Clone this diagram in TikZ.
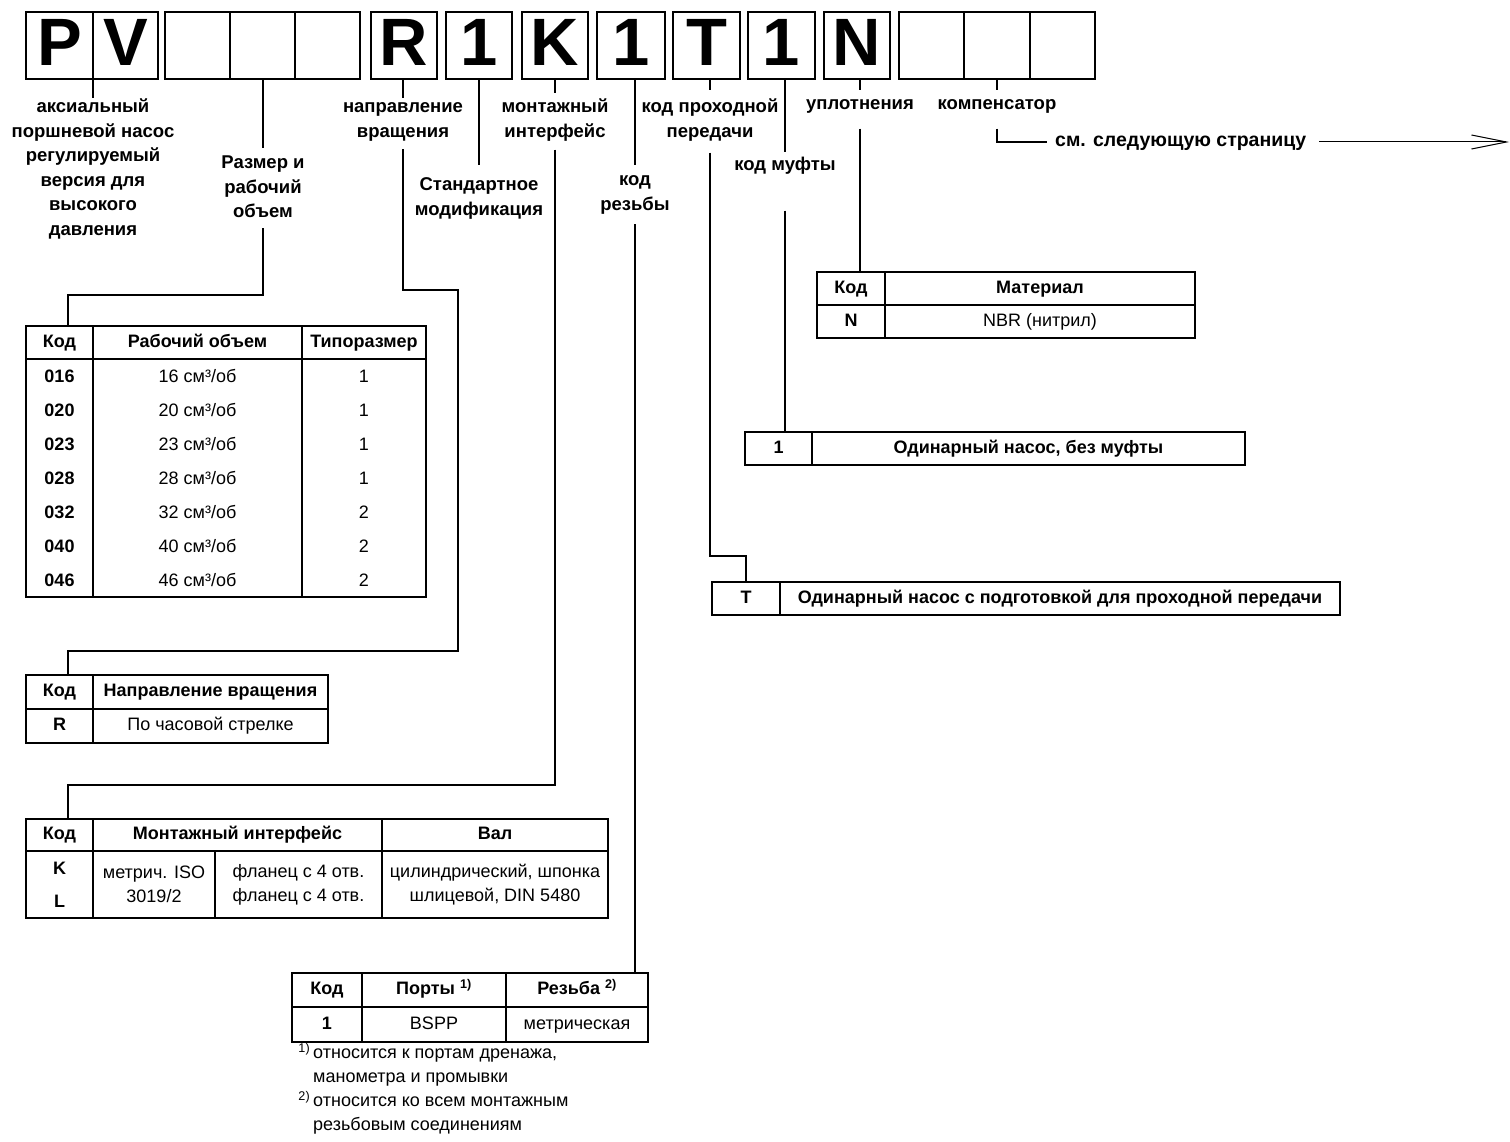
\documentclass[tikz,border=0pt]{standalone}
\usepackage{fontspec}
\setmainfont{Liberation Sans}
\usetikzlibrary{arrows.meta}
\newcommand\fbig{\fontsize{67}{67}\selectfont\bfseries}
\newcommand\flab{\fontsize{18.5}{24.5}\selectfont\bfseries}
\newcommand\fsee{\fontsize{19.5}{24.5}\selectfont\bfseries}
\newcommand\ftab{\fontsize{18}{24}\selectfont}
\newcommand\fnote{\fontsize{18}{24}\selectfont}
\newcommand\mystrut{\rule{0pt}{13.5pt}}
\newcommand\mycell[4]{\node[bc,minimum width={(#4-#3)*1pt}] (#1) at ({(#3+#4)/2},45.5) {#2};}
\newcommand\mytab[7][]{\node[tcs,#1,minimum width={(#5-#3)*1pt},minimum height={(#6-#4)*1pt}] (#2) at ({(#3+#5)/2},{(#4+#6)/2}) {#7};}
\begin{document}
\begin{tikzpicture}[x=1pt,y=-1pt,
 bc/.style={draw,line width=1.2pt,inner sep=0pt,outer sep=0pt,minimum height=67pt,font=\fbig,text height=48pt,text depth=8pt},
 tc/.style={draw,line width=1.2pt,inner sep=0pt,outer sep=0pt,font=\ftab,align=center},
 tcs/.style={tc,text height=12.9pt,text depth=3.8pt},
 tml/.style={text height=,text depth=},
 lab/.style={font=\flab,align=center,inner sep=0pt,anchor=north},
 tx/.style={font=\ftab,inner sep=0pt,text height=12.9pt,text depth=3.8pt},
 conn/.style={line width=1.2pt}]
\useasboundingbox (0,0) rectangle (1510,1142);
% ---- code boxes
\mycell{cP}{P}{26}{93}
\mycell{cV}{V}{93}{158}
\mycell{cE1}{}{165}{230}
\mycell{cE2}{}{230}{295}
\mycell{cE3}{}{295}{360}
\mycell{cR}{R}{371}{437}
\mycell{cS}{1}{446}{512}
\mycell{cK}{K}{522}{588}
\mycell{cTh}{1}{597}{665}
\mycell{cT}{T}{673}{740}
\mycell{cCp}{1}{748}{815}
\mycell{cN}{N}{824}{890}
\mycell{cF1}{}{899}{964}
\mycell{cF2}{}{964}{1030}
\mycell{cF3}{}{1030}{1095}
% ---- labels
\node[lab] (labA) at (93,99) {\mystrut аксиальный\\поршневой насос\\регулируемый\\версия для\\высокого\\давления};
\node[lab] (labB) at (263,155) {\mystrut Размер и\\рабочий\\объем};
\node[lab] (labC) at (403,99) {\mystrut направление\\вращения};
\node[lab] (labD) at (479,177) {\mystrut Стандартное\\модификация};
\node[lab] (labE) at (555,99) {\mystrut монтажный\\интерфейс};
\node[lab] (labF) at (635,172) {\mystrut код\\резьбы};
\node[lab] (labG) at (710,99) {\mystrut код проходной\\передачи};
\node[lab] (labH) at (785,157) {\mystrut код муфты};
\node[lab] (labN) at (860,96) {\mystrut уплотнения};
\node[lab] (labK) at (997,96) {\mystrut компенсатор};
\node[font=\fsee,inner sep=0pt,anchor=west,text height=14pt,text depth=5pt] (labS) at (1055,142) {см. следующую страницу};
\coordinate (arrEnd) at (1509,142);
% ---- table 1
\mytab{t1h1}{26}{326}{93}{359}{\bfseries Код}
\mytab{t1h2}{93}{326}{302}{359}{\bfseries Рабочий объем}
\mytab{t1h3}{302}{326}{426}{359}{\bfseries Типоразмер}
\mytab{t1b1}{26}{359}{93}{597}{}
\mytab{t1b2}{93}{359}{302}{597}{}
\mytab{t1b3}{302}{359}{426}{597}{}
\foreach \c/\v/\t [count=\i from 0] in {016/16/1,020/20/1,023/23/1,028/28/1,032/32/2,040/40/2,046/46/2}{
 \node[tx,font=\ftab\bfseries] (t1c\i) at (59.5,{377.5+34*\i}) {\c};
 \node[tx] (t1v\i) at (197.5,{377.5+34*\i}) {\v{} см³/об};
 \node[tx] (t1t\i) at (364,{377.5+34*\i}) {\t};
}
% ---- table 2
\mytab{t2h1}{26}{675}{93}{709}{\bfseries Код}
\mytab{t2h2}{93}{675}{328}{709}{\bfseries Направление вращения}
\mytab{t2r1}{26}{709}{93}{743}{\bfseries R}
\mytab{t2r2}{93}{709}{328}{743}{По часовой стрелке}
% ---- table 3
\mytab{t3h1}{26}{819}{93}{851}{\bfseries Код}
\mytab{t3h2}{93}{819}{382}{851}{\bfseries Монтажный интерфейс}
\mytab{t3h3}{382}{819}{608}{851}{\bfseries Вал}
\mytab[tml]{t3b1}{26}{851}{93}{918}{\bfseries K\\[9pt]\bfseries L}
\mytab[tml]{t3b2}{93}{851}{215}{918}{метрич. ISO\\3019/2}
\mytab[tml]{t3b3}{215}{851}{382}{918}{фланец с 4 отв.\\фланец с 4 отв.}
\mytab[tml]{t3b4}{382}{851}{608}{918}{цилиндрический, шпонка\\шлицевой, DIN 5480}
% ---- table 4
\mytab{t4h1}{292}{973}{362}{1007}{\bfseries Код}
\mytab{t4h2}{362}{973}{506}{1007}{\bfseries Порты \textsuperscript{1)}}
\mytab{t4h3}{506}{973}{648}{1007}{\bfseries Резьба \textsuperscript{2)}}
\mytab{t4r1}{292}{1007}{362}{1042}{\bfseries 1}
\mytab{t4r2}{362}{1007}{506}{1042}{BSPP}
\mytab{t4r3}{506}{1007}{648}{1042}{метрическая}
\node[font=\fnote,align=left,inner sep=0pt,anchor=north west] (fn) at (313,1043)
 {\mystrut\llap{\textsuperscript{1)}\,}относится к портам дренажа,\\манометра и промывки\\\llap{\textsuperscript{2)}\,}относится ко всем монтажным\\резьбовым соединениям};
% ---- table N
\mytab{tNh1}{817}{272}{885}{305}{\bfseries Код}
\mytab{tNh2}{885}{272}{1195}{305}{\bfseries Материал}
\mytab{tNr1}{817}{305}{885}{338}{\bfseries N}
\mytab{tNr2}{885}{305}{1195}{338}{NBR (нитрил)}
% ---- table coupling
\mytab{tMk}{745}{432}{812}{465}{\bfseries 1}
\mytab{tMt}{812}{432}{1245}{465}{\bfseries Одинарный насос, без муфты}
% ---- table through drive
\mytab{tTk}{712}{582}{780}{615}{\bfseries T}
\mytab{tTt}{780}{582}{1340}{615}{\bfseries Одинарный насос с подготовкой для проходной передачи}
% ---- connectors
\coordinate (bB) at (68,295);
\coordinate (bC1) at (458,290);
\coordinate (bC2) at (68,651);
\coordinate (bE) at (68,785);
\coordinate (bG) at (746,556);
\draw[conn,shorten >=1pt] (cP.south east) -- (labA.north);
\draw[conn,shorten >=7pt] (cE2.south -| labB.north) -- (labB.north);
\draw[conn,shorten <=10pt] (labB.south) |- (bB) -- (bB |- t1h1.north);
\draw[conn,shorten >=1pt] (cR.south -| labC.north) -- (labC.north);
\draw[conn,shorten <=8pt] (labC.south) |- (bC1) |- (bC2) -- (bC2 |- t2h1.north);
\draw[conn,shorten >=12pt] (cS.south -| labD.north) -- (labD.north);
\draw[conn,shorten >=6pt] (cK.south -| labE.north) -- (labE.north);
\draw[conn,shorten <=8pt] (labE.south) |- (bE) -- (bE |- t3h1.north);
\draw[conn,shorten >=7pt] (cTh.south -| labF.north) -- (labF.north);
\draw[conn,shorten <=10pt] (labF.south) -- (labF.south |- t4h3.north);
\draw[conn,shorten >=9pt] (cT.south -| labG.north) -- (labG.north);
\draw[conn,shorten <=11pt] (labG.south) |- (bG) -- (tTk.north);
\draw[conn,shorten >=5pt] (cCp.south -| labH.north) -- (labH.north);
\draw[conn,shorten <=36pt] (labH.south) -- (labH.south |- tMt.north);
\draw[conn,shorten >=6pt] (cN.south -| labN.north) -- (labN.north);
\draw[conn,shorten <=15pt] (labN.south) -- (labN.south |- tNh1.north);
\draw[conn,shorten >=6pt] (cF2.south -| labK.north) -- (labK.north);
\draw[conn,shorten <=15pt,shorten >=8pt] (labK.south) |- (labS.west);
\draw[line width=1pt,shorten <=13pt,-{Straight Barb[length=35pt,width=14pt]}] (labS.east) -- (arrEnd);
\end{tikzpicture}
\end{document}
